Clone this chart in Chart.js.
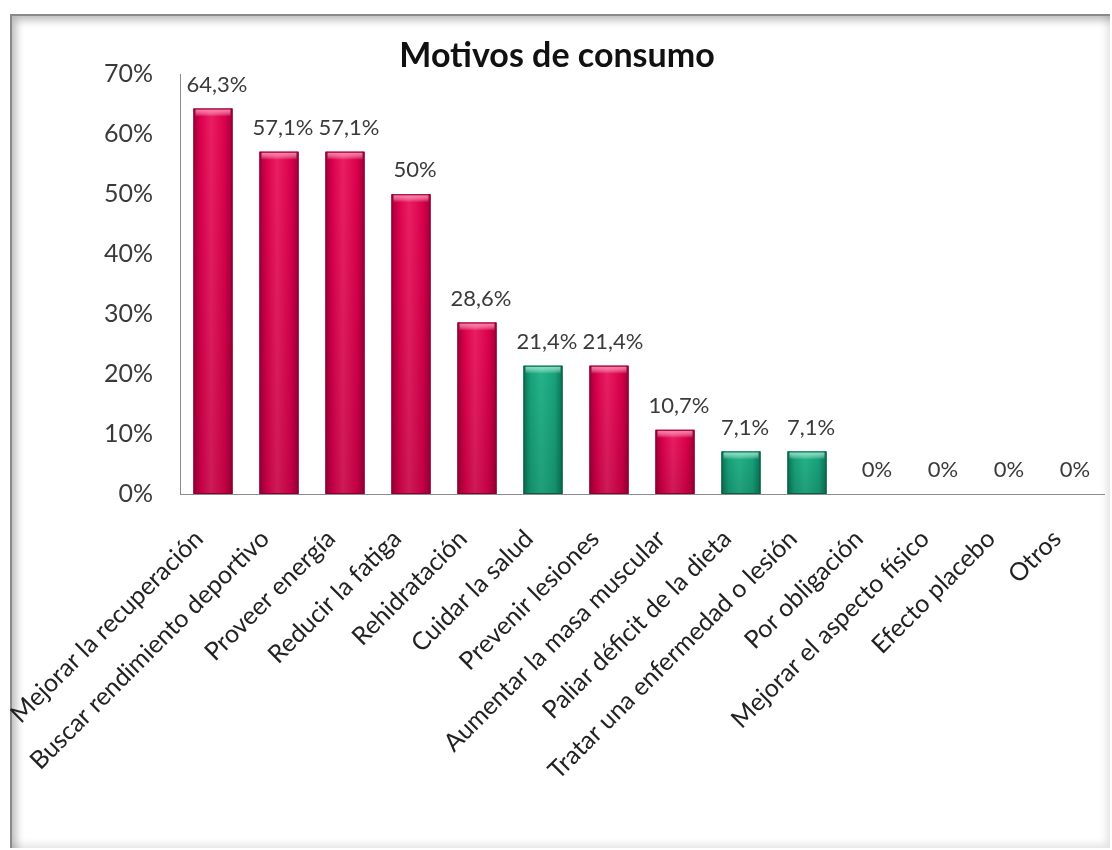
<!DOCTYPE html>
<html lang="es">
<head>
<meta charset="utf-8">
<title>Motivos de consumo</title>
<script src="https://cdn.jsdelivr.net/npm/chart.js@4.4.1/dist/chart.umd.min.js"></script>
<style>
  html, body { margin: 0; padding: 0; background: #fff; }
  body { width: 1112px; height: 850px; position: relative; overflow: hidden; }
  /* marco gris con sombra interior */
  .marco {
    position: absolute; left: 10px; top: 14px; width: 1100px; height: 834px;
    box-sizing: border-box;
    border-top: 2px solid #8a8a8a; border-left: 2px solid #8a8a8a;
    box-shadow: inset 7px 7px 9px -3px rgba(0,0,0,0.28), inset -6px -6px 8px -3px rgba(0,0,0,0.12);
  }
  .lienzo { position: absolute; left: 10px; top: 14px; width: 1100px; height: 836px; }
</style>
</head>
<body>
<div class="marco"></div>
<div class="lienzo"><canvas id="motivos"></canvas></div>
<script>
const categorias = [
  'Mejorar la recuperación',
  'Buscar rendimiento deportivo',
  'Proveer energía',
  'Reducir la fatiga',
  'Rehidratación',
  'Cuidar la salud',
  'Prevenir lesiones',
  'Aumentar la masa muscular',
  'Paliar déficit de la dieta',
  'Tratar una enfermedad o lesión',
  'Por obligación',
  'Mejorar el aspecto físico',
  'Efecto placebo',
  'Otros'
];
const porcentajes = [64.3, 57.1, 57.1, 50, 28.6, 21.4, 21.4, 10.7, 7.1, 7.1, 0, 0, 0, 0];
// 'salud' = barras verdes, el resto rojas
const grupos = ['rend', 'rend', 'rend', 'rend', 'rend', 'salud', 'rend', 'rend', 'salud', 'salud', 'rend', 'rend', 'rend', 'rend'];
const ticksY = [0, 10, 20, 30, 40, 50, 60, 70];

const paletas = {
  rend:  { borde: '#8a002c', lado: '#a3003a', medio: '#dc004c', claro: '#ea1e62', tapa: '#ff7aa5' },
  salud: { borde: '#0a5c42', lado: '#0c7454', medio: '#17a27b', claro: '#25b48a', tapa: '#7ee6c3' }
};

const fuente = 'Lato, "Open Sans", sans-serif';
const fmt = v => String(v).replace('.', ',') + '%';

// relieve de las barras y etiquetas de valor
const barrasConRelieve = {
  id: 'barrasConRelieve',
  afterDatasetsDraw(chart) {
    const ctx = chart.ctx;
    const meta = chart.getDatasetMeta(0);
    ctx.save();
    meta.data.forEach((bar, i) => {
      const { x, y, base, width } = bar.getProps(['x', 'y', 'base', 'width'], true);
      const h = base - y;
      if (h < 1) return;
      const p = paletas[grupos[i]];
      const left = x - width / 2;

      const g = ctx.createLinearGradient(left, 0, left + width, 0);
      g.addColorStop(0, p.lado);
      g.addColorStop(0.18, p.medio);
      g.addColorStop(0.45, p.claro);
      g.addColorStop(0.8, p.medio);
      g.addColorStop(1, p.lado);
      ctx.fillStyle = g;
      ctx.fillRect(left, y, width, h);

      // oscurece un poco hacia la base
      const gv = ctx.createLinearGradient(0, y, 0, base);
      gv.addColorStop(0, 'rgba(0,0,0,0)');
      gv.addColorStop(1, 'rgba(0,0,0,0.12)');
      ctx.fillStyle = gv;
      ctx.fillRect(left, y, width, h);

      // tapa superior brillante
      const capH = Math.min(8, h);
      const gc = ctx.createLinearGradient(0, y, 0, y + capH);
      gc.addColorStop(0, p.tapa);
      gc.addColorStop(1, 'rgba(255,255,255,0)');
      ctx.fillStyle = gc;
      ctx.fillRect(left + 2, y, width - 4, capH);

      ctx.strokeStyle = p.borde;
      ctx.lineWidth = 1;
      ctx.strokeRect(left + 0.5, y + 0.5, width - 1, h - 1);
    });

    ctx.font = '22px ' + fuente;
    ctx.fillStyle = '#3a3a3a';
    ctx.textAlign = 'center';
    ctx.textBaseline = 'middle';
    meta.data.forEach((bar, i) => {
      ctx.fillText(fmt(porcentajes[i]), bar.x + 4, bar.y - 24);
    });
    ctx.restore();
  }
};

new Chart(document.getElementById('motivos'), {
  type: 'bar',
  data: {
    labels: categorias,
    datasets: [{
      data: porcentajes,
      backgroundColor: grupos.map(g => paletas[g].medio),
      barPercentage: 0.59,
      categoryPercentage: 1.0
    }]
  },
  options: {
    responsive: true,
    maintainAspectRatio: false,
    animation: false,
    layout: { padding: { left: 0, right: 6, top: 0, bottom: 0 } },
    plugins: {
      legend: { display: false },
      tooltip: { enabled: false },
      title: {
        display: true,
        text: 'Motivos de consumo',
        color: '#111',
        font: { family: fuente, size: 34, weight: 'bold', lineHeight: 1.1 },
        padding: { top: 23, bottom: 0 }
      }
    },
    scales: {
      x: {
        grid: { display: false },
        border: { display: true, color: '#8c8c8c', width: 1 },
        ticks: {
          autoSkip: false,
          minRotation: 45,
          maxRotation: 45,
          padding: 22,
          labelOffset: -14,
          color: '#222',
          font: { family: fuente, size: 25 }
        },
        afterFit(scale) {
          scale.height = 356;
          // las etiquetas giradas no deben empujar el área del gráfico
          scale.paddingLeft = 0;
          scale.paddingRight = 0;
        }
      },
      y: {
        min: 0,
        max: 70,
        grid: { display: false },
        border: { display: true, color: '#8c8c8c', width: 1 },
        afterBuildTicks(scale) { scale.ticks = ticksY.map(v => ({ value: v })); },
        ticks: {
          padding: 19,
          color: '#3a3a3a',
          font: { family: fuente, size: 25 },
          callback: v => v + '%'
        },
        afterFit(scale) { scale.width = 170; }
      }
    }
  },
  plugins: [barrasConRelieve]
});
</script>
</body>
</html>
